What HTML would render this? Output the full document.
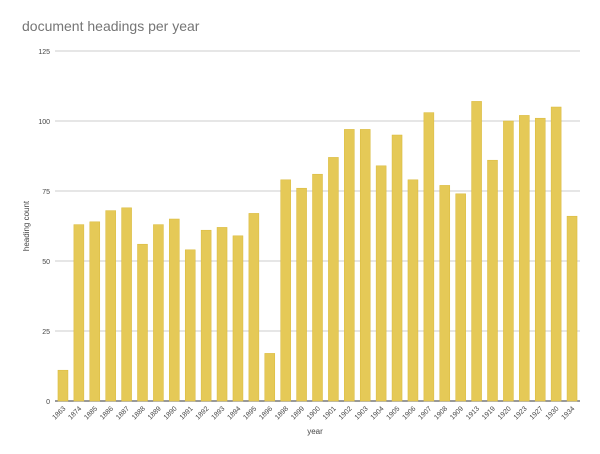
<!DOCTYPE html>
<html><head><meta charset="utf-8"><style>
body{margin:0;background:#fff;font-family:"Liberation Sans",sans-serif}
</style></head><body>
<svg id="c" width="600" height="449" xmlns="http://www.w3.org/2000/svg">
<text x="22" y="31" font-size="14" fill="#757575">document headings per year</text>
<g id="grid"></g><g id="bars"></g><g id="xl"></g>
<text x="315" y="434" font-size="8" fill="#444" text-anchor="middle">year</text>
<text transform="translate(29,226) rotate(-90)" font-size="8" fill="#444" text-anchor="middle">heading count</text>
</svg>
<script>
const categories=["1863","1874","1885","1886","1887","1888","1889","1890","1891","1892","1893","1894","1895","1896","1898","1899","1900","1901","1902","1903","1904","1905","1906","1907","1908","1909","1913","1919","1920","1923","1927","1930","1934"];
const values=[11,63,64,68,69,56,63,65,54,61,62,59,67,17,79,76,81,87,97,97,84,95,79,103,77,74,107,86,100,102,101,105,66];
const yTicks=[0,25,50,75,100,125];
const ns="http://www.w3.org/2000/svg";
const x0=55,x1=580,y0=401,y1=51,yMax=125;
const band=(x1-x0)/categories.length;
const y=v=>y0-(v/yMax)*(y0-y1);
const xc=i=>x0+band*(i+0.5);
function mk(t,a,p){const e=document.createElementNS(ns,t);for(const k in a)e.setAttribute(k,a[k]);p.appendChild(e);return e;}
const g=document.getElementById('grid');
yTicks.forEach(t=>{
 const l=mk('line',{x1:x0,x2:x1,y1:y(t),y2:y(t),stroke:t===0?'#333':'#ccc','stroke-width':1},g);
 
 
 const tx=mk('text',{x:x0-5,y:y(t)+3,'font-size':7,fill:'#444','text-anchor':'end'},g);
 tx.textContent=t;
 
 
});
const b=document.getElementById('bars'),xl=document.getElementById('xl');
values.forEach((v,i)=>{
 const w=10;
 const r=mk('rect',{x:xc(i)-w/2,y:y(v),width:w,height:y0-y(v),fill:'#e5c957',stroke:'#d9b93a','stroke-width':0.5},b);
 
 
 const t=mk('text',{transform:`translate(${xc(i)+3},${y0+8}) rotate(-45)`,'font-size':7,fill:'#444','text-anchor':'end'},xl);
 t.textContent=categories[i];
 
 
});
</script>
</body></html>
